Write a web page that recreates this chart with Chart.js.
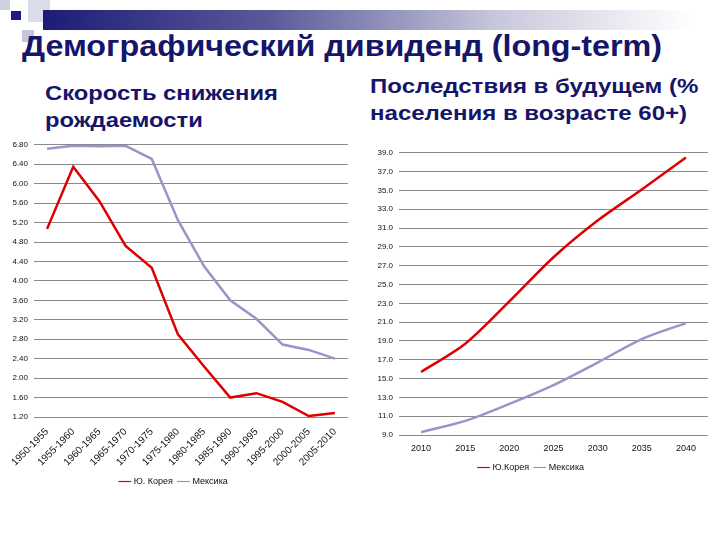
<!DOCTYPE html>
<html>
<head>
<meta charset="utf-8">
<script src="https://cdn.jsdelivr.net/npm/chart.js@4/dist/chart.umd.min.js"></script>
<style>
  body { margin: 0; width: 720px; height: 540px; background: #fff; position: relative; overflow: hidden;
         font-family: "Liberation Sans", Arial, sans-serif; }
  .bar { position: absolute; left: 43px; top: 10px; width: 650px; height: 20px;
         background: linear-gradient(to right, #1c1c78 0%, #5a5a9a 35%, #c8c8dc 70%, #fff 100%); }
  .sq { position: absolute; }
  .t { position: absolute; color: #15156a; font-weight: bold; white-space: nowrap; transform-origin: 0 0; }
  canvas { position: absolute; }
</style>
</head>
<body>
<div class="sq" style="left:0;top:0;width:10px;height:10px;background:#d0d0e4"></div>
<div class="sq" style="left:28px;top:0;width:22px;height:22px;background:#dcdcec"></div>
<div class="sq" style="left:22px;top:30px;width:12px;height:12px;background:#c4c4dc"></div>
<div class="bar"></div>
<div class="sq" style="left:11px;top:11px;width:10px;height:9px;background:#1a1a88"></div>

<div class="t" id="title" data-w="640" style="left:22px;top:30px;font-size:29px;line-height:32px;">Демографический дивиденд (long-term)</div>
<div class="t" id="sub1" data-w="233" style="left:45px;top:80px;font-size:20px;line-height:27px;">Скорость снижения<br>рождаемости</div>
<div class="t" id="sub2" data-w="328" style="left:370px;top:73px;font-size:20px;line-height:27px;">Последствия в будущем (%<br>населения в возрасте 60+)</div>

<div style="position:absolute;left:0;top:134px;width:356px;height:362px"><canvas id="left"></canvas></div>
<div style="position:absolute;left:355px;top:142px;width:365px;height:340px"><canvas id="right"></canvas></div>

<script>
// fit headline widths to the slide
document.querySelectorAll('.t').forEach(function (el) {
  var w = el.offsetWidth;
  el.style.transform = 'scaleX(' + (el.dataset.w / w) + ')';
});

const periods = ['1950-1955', '1955-1960', '1960-1965', '1965-1970', '1970-1975', '1975-1980',
  '1980-1985', '1985-1990', '1990-1995', '1995-2000', '2000-2005', '2005-2010'];
const koreaTfr = [5.07, 6.35, 5.64, 4.72, 4.27, 2.90, 2.24, 1.60, 1.69, 1.51, 1.22, 1.28];
const mexicoTfr = [6.72, 6.78, 6.77, 6.78, 6.51, 5.25, 4.30, 3.60, 3.22, 2.69, 2.58, 2.40];

const years = ['2010', '2015', '2020', '2025', '2030', '2035', '2040'];
const korea60 = [15.7, 18.7, 23.2, 27.9, 31.8, 35.1, 38.5];
const mexico60 = [9.3, 10.5, 12.3, 14.3, 16.7, 19.2, 20.9];

const red = 'rgb(222,0,0)';
const lilac = 'rgb(150,150,200)';
const tickFont = { family: '"Liberation Sans", Arial', size: 8 };

Chart.defaults.font.family = '"Liberation Sans", Arial';
Chart.defaults.color = '#111';

function legendOpts() {
  return {
    position: 'bottom',
    labels: {
      usePointStyle: true, pointStyle: 'line', boxWidth: 24, padding: 6,
      font: { size: 9 }, color: '#111',
      generateLabels: function (chart) {
        var items = Chart.defaults.plugins.legend.labels.generateLabels(chart);
        items.forEach(function (it) { it.lineWidth = 1.2; });
        return items;
      }
    }
  };
}

new Chart(document.getElementById('left'), {
  type: 'line',
  data: {
    labels: periods,
    datasets: [
      { label: 'Ю. Корея', data: koreaTfr, borderColor: red, backgroundColor: red, borderWidth: 2.5, pointRadius: 0, tension: 0 },
      { label: 'Мексика', data: mexicoTfr, borderColor: lilac, backgroundColor: lilac, borderWidth: 2.5, pointRadius: 0, tension: 0 }
    ]
  },
  options: {
    responsive: true,
    maintainAspectRatio: false,
    animation: false,
    layout: { padding: { top: 4, right: 8 } },
    plugins: { legend: legendOpts(), tooltip: { enabled: false } },
    scales: {
      x: {
        offset: true,
        afterFit: function (s) { s.height = 54; },
        grid: { display: false },
        border: { display: false },
        ticks: { font: { size: 10 }, color: '#111', minRotation: 45, maxRotation: 45, autoSkip: false, padding: 1 }
      },
      y: {
        min: 1.2, max: 6.8,
        afterFit: function (s) { s.width = 34; },
        grid: { color: '#8a8a8a', drawTicks: false },
        border: { display: false },
        ticks: { stepSize: 0.4, font: tickFont, color: '#111', padding: 6,
                 callback: function (v) { return v.toFixed(2); } }
      }
    }
  }
});

new Chart(document.getElementById('right'), {
  type: 'line',
  data: {
    labels: years,
    datasets: [
      { label: 'Ю.Корея', data: korea60, borderColor: red, backgroundColor: red, borderWidth: 2.5, pointRadius: 0, tension: 0.3 },
      { label: 'Мексика', data: mexico60, borderColor: lilac, backgroundColor: lilac, borderWidth: 2.5, pointRadius: 0, tension: 0.3 }
    ]
  },
  options: {
    responsive: true,
    maintainAspectRatio: false,
    animation: false,
    layout: { padding: { top: 6, right: 12 } },
    plugins: { legend: legendOpts(), tooltip: { enabled: false } },
    scales: {
      x: {
        offset: true,
        afterFit: function (s) { s.height = 22; },
        grid: { display: false },
        border: { display: false },
        ticks: { font: { size: 9 }, color: '#111', padding: 0 }
      },
      y: {
        min: 9, max: 39,
        afterFit: function (s) { s.width = 44; },
        grid: { color: '#8a8a8a', drawTicks: false },
        border: { display: false },
        ticks: { stepSize: 2, font: tickFont, color: '#111', padding: 6,
                 callback: function (v) { return v.toFixed(1); } }
      }
    }
  }
});
</script>
</body>
</html>
